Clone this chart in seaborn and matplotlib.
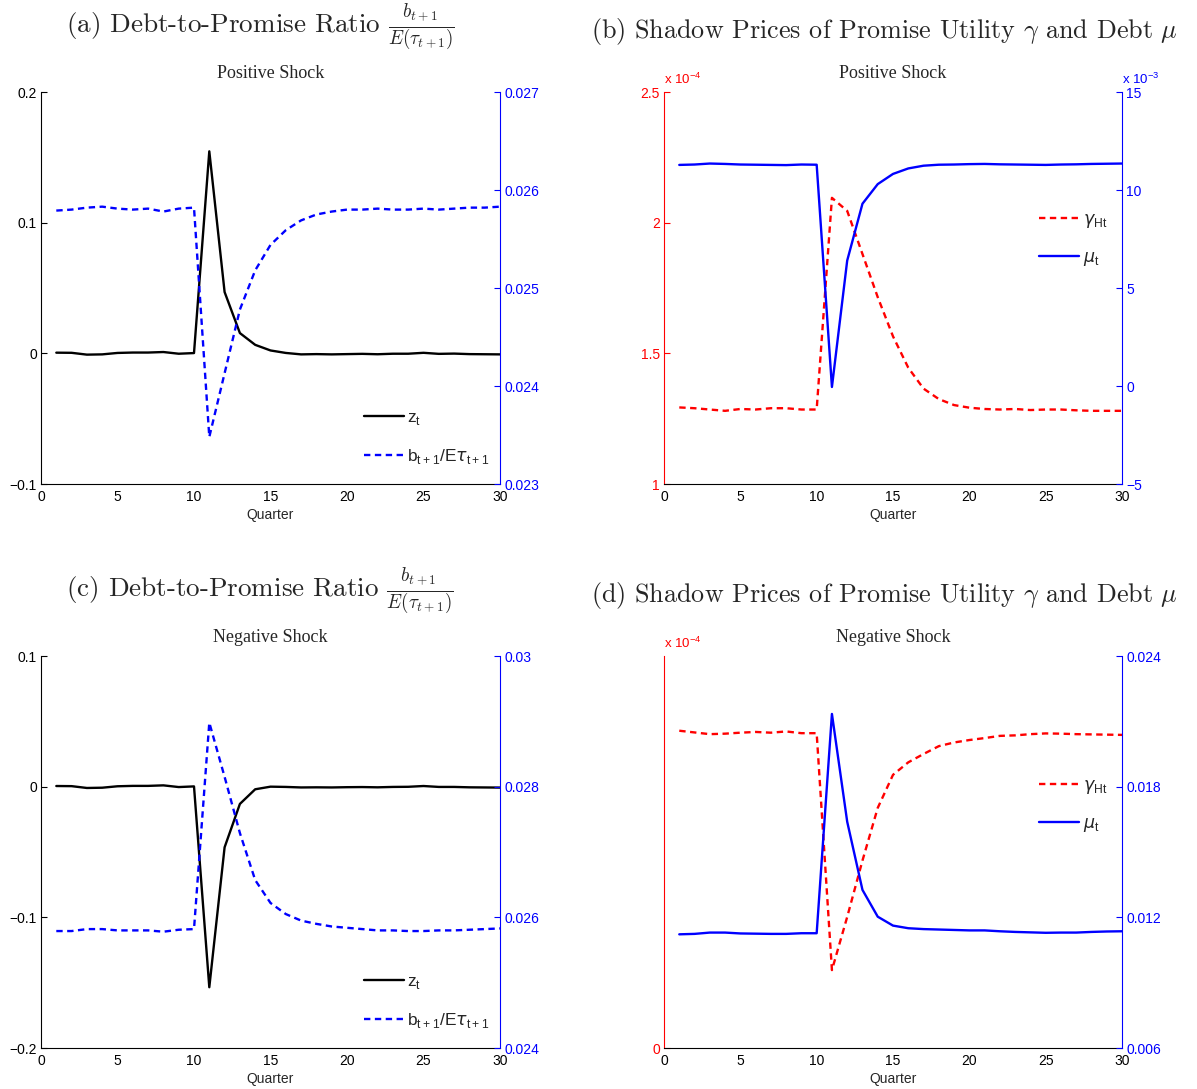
import numpy as np
import pandas as pd
import matplotlib
matplotlib.use("Agg")
import matplotlib.pyplot as plt
from matplotlib.ticker import FuncFormatter
from matplotlib.lines import Line2D
import seaborn as sns

# ---------------- data ----------------
quarters = list(range(1, 31))

# (a) positive shock
z_pos = [0.0005, 0.0004, -0.0010, -0.0008, 0.0003, 0.0006, 0.0006, 0.0010, -0.0003, 0.0002,
         0.1546, 0.0469, 0.0155, 0.0065, 0.0022, 0.0003, -0.0008, -0.0006, -0.0008, -0.0006,
         -0.0004, -0.0007, -0.0003, -0.0003, 0.0004, -0.0004, -0.0002, -0.0006, -0.0007, -0.0008]
b_pos = [0.02579, 0.02580, 0.02582, 0.02583, 0.02581, 0.02580, 0.02581, 0.02578, 0.02581, 0.02582,
         0.02348, 0.02413, 0.02478, 0.02518, 0.02544, 0.02559, 0.02569, 0.02575, 0.02578, 0.02580,
         0.02580, 0.02581, 0.02580, 0.02580, 0.02581, 0.02580, 0.02581, 0.02582, 0.02582, 0.02583]

# (b) positive shock (gamma in 1e-4, mu in 1e-3)
gamma_pos = [1.293, 1.290, 1.285, 1.280, 1.287, 1.285, 1.290, 1.290, 1.285, 1.285,
             2.095, 2.045, 1.880, 1.715, 1.565, 1.445, 1.365, 1.325, 1.302, 1.292,
             1.287, 1.285, 1.287, 1.283, 1.285, 1.285, 1.282, 1.280, 1.280, 1.280]
mu_pos = [11.28, 11.30, 11.35, 11.33, 11.30, 11.29, 11.28, 11.27, 11.30, 11.29,
          -0.05, 6.40, 9.30, 10.30, 10.82, 11.10, 11.24, 11.29, 11.30, 11.32,
          11.33, 11.31, 11.30, 11.29, 11.28, 11.30, 11.31, 11.33, 11.34, 11.35]

# (c) negative shock
z_neg = [0.0005, 0.0004, -0.0010, -0.0008, 0.0003, 0.0006, 0.0006, 0.0010, -0.0003, 0.0002,
         -0.1535, -0.0464, -0.0132, -0.0020, 0.0000, -0.0002, -0.0006, -0.0005, -0.0006, -0.0004,
         -0.0003, -0.0005, -0.0002, -0.0001, 0.0005, -0.0002, -0.0002, -0.0005, -0.0006, -0.0007]
b_neg = [0.02579, 0.02579, 0.02582, 0.02582, 0.02580, 0.02580, 0.02580, 0.02578, 0.02581, 0.02582,
         0.02898, 0.02815, 0.02729, 0.02657, 0.02622, 0.02605, 0.02595, 0.02590, 0.02586, 0.02584,
         0.02582, 0.02580, 0.02580, 0.02579, 0.02579, 0.02580, 0.02580, 0.02581, 0.02582, 0.02583]

# (d) negative shock (gamma in 1e-4)
gamma_neg = [1.295, 1.288, 1.281, 1.283, 1.287, 1.290, 1.287, 1.292, 1.285, 1.285,
             0.318, 0.535, 0.765, 0.980, 1.115, 1.166, 1.200, 1.232, 1.247, 1.257,
             1.265, 1.274, 1.276, 1.281, 1.284, 1.283, 1.281, 1.280, 1.279, 1.278]
mu_neg = [0.01122, 0.01124, 0.01130, 0.01130, 0.01126, 0.01125, 0.01124, 0.01124, 0.01127, 0.01127,
          0.02134, 0.01639, 0.01326, 0.01203, 0.01162, 0.01150, 0.01146, 0.01144, 0.01142, 0.01140,
          0.01140, 0.01136, 0.01133, 0.01131, 0.01129, 0.01130, 0.01130, 0.01133, 0.01135, 0.01136]

xticks = [0, 5, 10, 15, 20, 25, 30]

# ---------------- style ----------------
sns.set_style("white")
plt.rcParams["font.family"] = ["Liberation Sans", "DejaVu Sans"]
plt.rcParams["axes.unicode_minus"] = True

BLUE = "#0000ff"
RED = "#ff0000"
LW = 1.7
DASH = (0, (2.7, 1.9))
TICK_FS = 10


def fmt(v, pos):
    s = "%g" % v
    return s.replace("-", "\u2212")


fig = plt.figure(figsize=(11.97, 10.89), dpi=100)
W, H = 1197.0, 1089.0


def make_ax(left, top, right, bottom):
    return fig.add_axes([left / W, 1 - bottom / H, (right - left) / W, (bottom - top) / H])


def style_axes(ax, ax2, lcolor, rcolor):
    ax.set_xlim(0, 30)
    ax.set_xticks(xticks)
    ax.set_xlabel("Quarter", fontsize=TICK_FS, labelpad=3)
    for a in (ax, ax2):
        a.spines["top"].set_visible(False)
        a.set_facecolor("none")
    ax.spines["right"].set_visible(False)
    ax2.spines["left"].set_visible(False)
    ax2.spines["bottom"].set_visible(False)
    ax.spines["left"].set_color(lcolor)
    ax.spines["bottom"].set_color("black")
    ax2.spines["right"].set_color(rcolor)
    for s in ("left", "bottom"):
        ax.spines[s].set_linewidth(0.8)
    ax2.spines["right"].set_linewidth(0.8)
    ax.tick_params(axis="x", direction="in", length=4, labelsize=TICK_FS, colors="black", pad=4)
    ax.tick_params(axis="y", direction="in", length=4, labelsize=TICK_FS, colors=lcolor, pad=3)
    ax2.tick_params(axis="y", direction="in", length=4, labelsize=TICK_FS, colors=rcolor, pad=3)
    ax.yaxis.set_major_formatter(FuncFormatter(fmt))
    ax2.yaxis.set_major_formatter(FuncFormatter(fmt))
    ax.set_ylabel("")
    ax2.set_ylabel("")


def header(x, y, s, size=19.5):
    fig.text(x / W, 1 - y / H, s, ha="center", va="baseline", fontsize=size,
             family="cmr10", math_fontfamily="cm")


LEG_FS = 12.5
LEG_KW = dict(frameon=False, fontsize=LEG_FS, handlelength=2.3, handletextpad=0.2,
              labelspacing=1.15, borderaxespad=0.2)

# ---------------- (a) ----------------
axA = make_ax(41, 92, 500, 484)
axA2 = axA.twinx()
dfA = pd.DataFrame({"q": quarters, "z": z_pos, "b": b_pos})
sns.lineplot(data=dfA, x="q", y="z", ax=axA, color="black", lw=LW, legend=False)
sns.lineplot(data=dfA, x="q", y="b", ax=axA2, color=BLUE, lw=LW, ls=DASH, legend=False)
axA.set_ylim(-0.1, 0.2)
axA.set_yticks([-0.1, 0, 0.1, 0.2])
axA2.set_ylim(0.023, 0.027)
axA2.set_yticks([0.023, 0.024, 0.025, 0.026, 0.027])
style_axes(axA, axA2, "black", BLUE)
axA.set_title("Positive Shock", family="Liberation Serif", fontsize=13, pad=10)
hA = [Line2D([], [], color="black", lw=LW), Line2D([], [], color=BLUE, lw=LW, ls=DASH)]
labA = [r"z$_{\mathregular{t}}$", r"b$_{\mathregular{t+1}}$/E$\tau_{\mathregular{t+1}}$"]
axA2.legend(hA, labA, loc="lower right", bbox_to_anchor=(1.0, 0.02), **LEG_KW)
header(260, 33, r"(a) Debt-to-Promise Ratio $\frac{b_{t+1}}{E(\tau_{t+1})}$", 19.5)

# ---------------- (b) ----------------
axB = make_ax(664, 92, 1122, 484)
axB2 = axB.twinx()
dfB = pd.DataFrame({"q": quarters, "g": gamma_pos, "m": mu_pos})
sns.lineplot(data=dfB, x="q", y="g", ax=axB, color=RED, lw=LW, ls=DASH, legend=False)
sns.lineplot(data=dfB, x="q", y="m", ax=axB2, color=BLUE, lw=LW, legend=False)
axB.set_ylim(1, 2.5)
axB.set_yticks([1, 1.5, 2, 2.5])
axB2.set_ylim(-5, 15)
axB2.set_yticks([-5, 0, 5, 10, 15])
style_axes(axB, axB2, RED, BLUE)
axB.set_title("Positive Shock", family="Liberation Serif", fontsize=13, pad=10)
axB.text(0.0, 1.012, r"x 10$^{\mathregular{-4}}$", transform=axB.transAxes, color=RED,
         fontsize=9.5, ha="left", va="bottom")
axB2.text(1.0, 1.012, r"x 10$^{\mathregular{-3}}$", transform=axB2.transAxes, color=BLUE,
          fontsize=9.5, ha="left", va="bottom")
hB = [Line2D([], [], color=RED, lw=LW, ls=DASH), Line2D([], [], color=BLUE, lw=LW)]
labB = [r"$\gamma_{\mathregular{Ht}}$", r"$\mu_{\mathregular{t}}$"]
axB2.legend(hB, labB, loc="upper right", bbox_to_anchor=(0.99, 0.72), **LEG_KW)
header(884, 38, r"(b) Shadow Prices of Promise Utility $\gamma$ and Debt $\mu$", 18.8)

# ---------------- (c) ----------------
axC = make_ax(41, 656, 500, 1048)
axC2 = axC.twinx()
dfC = pd.DataFrame({"q": quarters, "z": z_neg, "b": b_neg})
sns.lineplot(data=dfC, x="q", y="z", ax=axC, color="black", lw=LW, legend=False)
sns.lineplot(data=dfC, x="q", y="b", ax=axC2, color=BLUE, lw=LW, ls=DASH, legend=False)
axC.set_ylim(-0.2, 0.1)
axC.set_yticks([-0.2, -0.1, 0, 0.1])
axC2.set_ylim(0.024, 0.030)
axC2.set_yticks([0.024, 0.026, 0.028, 0.030])
style_axes(axC, axC2, "black", BLUE)
axC.set_title("Negative Shock", family="Liberation Serif", fontsize=13, pad=10)
axC2.legend(hA, labA, loc="lower right", bbox_to_anchor=(1.0, 0.02), **LEG_KW)
header(260, 597, r"(c) Debt-to-Promise Ratio $\frac{b_{t+1}}{E(\tau_{t+1})}$", 19.5)

# ---------------- (d) ----------------
axD = make_ax(664, 656, 1122, 1048)
axD2 = axD.twinx()
dfD = pd.DataFrame({"q": quarters, "g": gamma_neg, "m": mu_neg})
sns.lineplot(data=dfD, x="q", y="g", ax=axD, color=RED, lw=LW, ls=DASH, legend=False)
sns.lineplot(data=dfD, x="q", y="m", ax=axD2, color=BLUE, lw=LW, legend=False)
axD.set_ylim(0, 1.6)
axD.set_yticks([0])
axD2.set_ylim(0.006, 0.024)
axD2.set_yticks([0.006, 0.012, 0.018, 0.024])
style_axes(axD, axD2, RED, BLUE)
axD.set_title("Negative Shock", family="Liberation Serif", fontsize=13, pad=10)
axD.text(0.0, 1.012, r"x 10$^{\mathregular{-4}}$", transform=axD.transAxes, color=RED,
         fontsize=9.5, ha="left", va="bottom")
axD2.legend(hB, labB, loc="upper right", bbox_to_anchor=(0.99, 0.715), **LEG_KW)
header(884, 602, r"(d) Shadow Prices of Promise Utility $\gamma$ and Debt $\mu$", 18.8)

fig.savefig("out.png", dpi=100, facecolor="white")
